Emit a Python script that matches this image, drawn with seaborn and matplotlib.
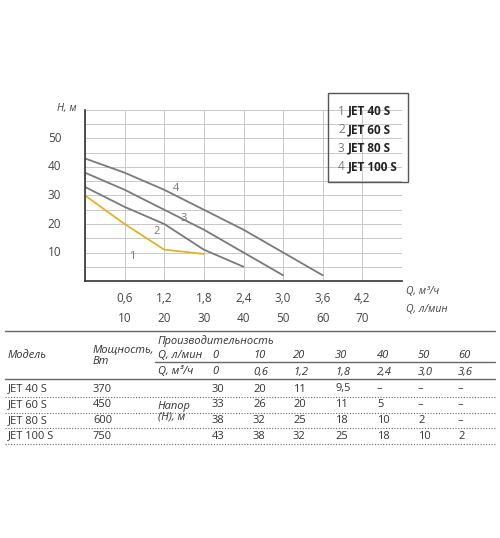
import matplotlib
matplotlib.use("Agg")
import matplotlib.pyplot as plt
import seaborn as sns
import pandas as pd

sns.set_style("white")
plt.rcParams['font.family'] = ['Open Sans', 'DejaVu Sans']

# data (Q in l/min, H in m)
models = ["JET 40 S", "JET 60 S", "JET 80 S", "JET 100 S"]
power = ["370", "450", "600", "750"]
q_lmin = [0, 10, 20, 30, 40, 50, 60]
q_m3h = ["0", "0,6", "1,2", "1,8", "2,4", "3,0", "3,6"]
head_40 = [30, 20, 11, 9.5]
head_60 = [33, 26, 20, 11, 5]
head_80 = [38, 32, 25, 18, 10, 2]
head_100 = [43, 38, 32, 25, 18, 10, 2]
heads = [head_40, head_60, head_80, head_100]
table_heads = [["30", "20", "11", "9,5", "–", "–", "–"],
               ["33", "26", "20", "11", "5", "–", "–"],
               ["38", "32", "25", "18", "10", "2", "–"],
               ["43", "38", "32", "25", "18", "10", "2"]]

rows = []
for m, h in zip(models, heads):
    for q, v in zip(q_lmin, h):
        rows.append({"model": m, "q": q, "h": v})
df = pd.DataFrame(rows)

W, H = 500, 538
fig = plt.figure(figsize=(5, 5.38), dpi=100)
ax = fig.add_axes([85 / W, 1 - 281 / H, 317 / W, 171 / H])

palette = {"JET 40 S": "#e3b22c", "JET 60 S": "#7a7a7a", "JET 80 S": "#7a7a7a", "JET 100 S": "#7a7a7a"}
sns.lineplot(data=df, x="q", y="h", hue="model", palette=palette, ax=ax, legend=False, linewidth=1.3)
ax.set_xlim(0, 80)
ax.set_ylim(0, 60)
ax.set_xticks(range(0, 81, 10))
ax.set_yticks(range(0, 61, 5))
ax.grid(True, color="#c8c8c8", linewidth=0.7)
ax.set_xticklabels([])
ax.set_yticklabels([])
ax.tick_params(length=0)
for s in ["top", "right"]:
    ax.spines[s].set_visible(False)
for s in ["left", "bottom"]:
    ax.spines[s].set_color("#333333")
    ax.spines[s].set_linewidth(1.2)
ax.set_xlabel("")
ax.set_ylabel("")

def px(x, y):
    return x / W, 1 - y / H

gray = "#444444"
for v in range(10, 60, 10):
    ax.text(-6, v, str(v), ha="right", va="center", fontsize=8.5, color=gray)
for i, lab in enumerate(["0,6", "1,2", "1,8", "2,4", "3,0", "3,6", "4,2"]):
    ax.text((i + 1) * 10, -4, lab, ha="center", va="top", fontsize=8.5, color=gray)
    ax.text((i + 1) * 10, -11, str((i + 1) * 10), ha="center", va="top", fontsize=8.5, color=gray)
fig.text(*px(406, 292), "Q, м³/ч", fontsize=7.5, style="italic", color=gray, va="center")
fig.text(*px(406, 309), "Q, л/мин", fontsize=7.5, style="italic", color=gray, va="center")
fig.text(*px(57, 108), "H, м", fontsize=7.5, style="italic", color=gray, va="center")
for num, (x, y) in zip("1234", [(12, 8.5), (18, 17.5), (25, 22), (23, 32.5)]):
    ax.text(x, y, num, fontsize=8, color="#777777", ha="center", va="center")

# legend box
box = plt.Rectangle(px(328, 182), 80 / W, 89 / H, transform=fig.transFigure,
                    fill=False, edgecolor="#555555", linewidth=1)
fig.add_artist(box)
for i, m in enumerate(models):
    y = 111 + i * 18.5
    fig.text(*px(338, y), str(i + 1), fontsize=8.5, color="#777777", va="center")
    fig.text(*px(348, y), m, fontsize=8.5, color="#222222", weight="bold", va="center")

# table
def hline(y, x0, x1, dotted=False):
    fig.add_artist(plt.Line2D([x0 / W, x1 / W], [1 - y / H, 1 - y / H], transform=fig.transFigure,
                              color="#666666", linewidth=0.8 if dotted else 1.0,
                              linestyle=(0, (1, 1.5)) if dotted else "-"))

hline(331, 5, 495)
hline(362, 155, 495)
hline(379, 5, 495)
fs = 8
fig.text(*px(158, 341), "Производительность", fontsize=fs, style="italic", color="#333", va="center")
fig.text(*px(8, 356), "Модель", fontsize=fs, style="italic", color="#333", va="center")
fig.text(*px(93, 356), "Мощность,\nВт", fontsize=fs, style="italic", color="#333", va="center", linespacing=0.95)
fig.text(*px(158, 355), "Q, л/мин", fontsize=fs, style="italic", color="#333", va="center")
fig.text(*px(158, 372), "Q, м³/ч", fontsize=fs, style="italic", color="#333", va="center")
col_x = [212, 253, 293, 335, 377, 418, 458]
for cx, a, b in zip(col_x, q_lmin, q_m3h):
    fig.text(*px(cx, 355), str(a), fontsize=fs, style="italic", color="#333", va="center")
    fig.text(*px(cx, 372), b, fontsize=fs, style="italic", color="#333", va="center")
fig.text(*px(158, 412), "Напор\n(Н), м", fontsize=fs, style="italic", color="#333", va="center", linespacing=0.95)
for r, (m, p, vals) in enumerate(zip(models, power, table_heads)):
    y = 389 + r * 15.7
    fig.text(*px(8, y), m, fontsize=fs, color="#333", va="center")
    fig.text(*px(93, y), p, fontsize=fs, color="#333", va="center")
    for cx, v in zip(col_x, vals):
        fig.text(*px(cx, y), v, fontsize=fs, color="#333", va="center")
    hline(y + 8, 5, 495, dotted=True)

fig.savefig("out.png", dpi=100)
